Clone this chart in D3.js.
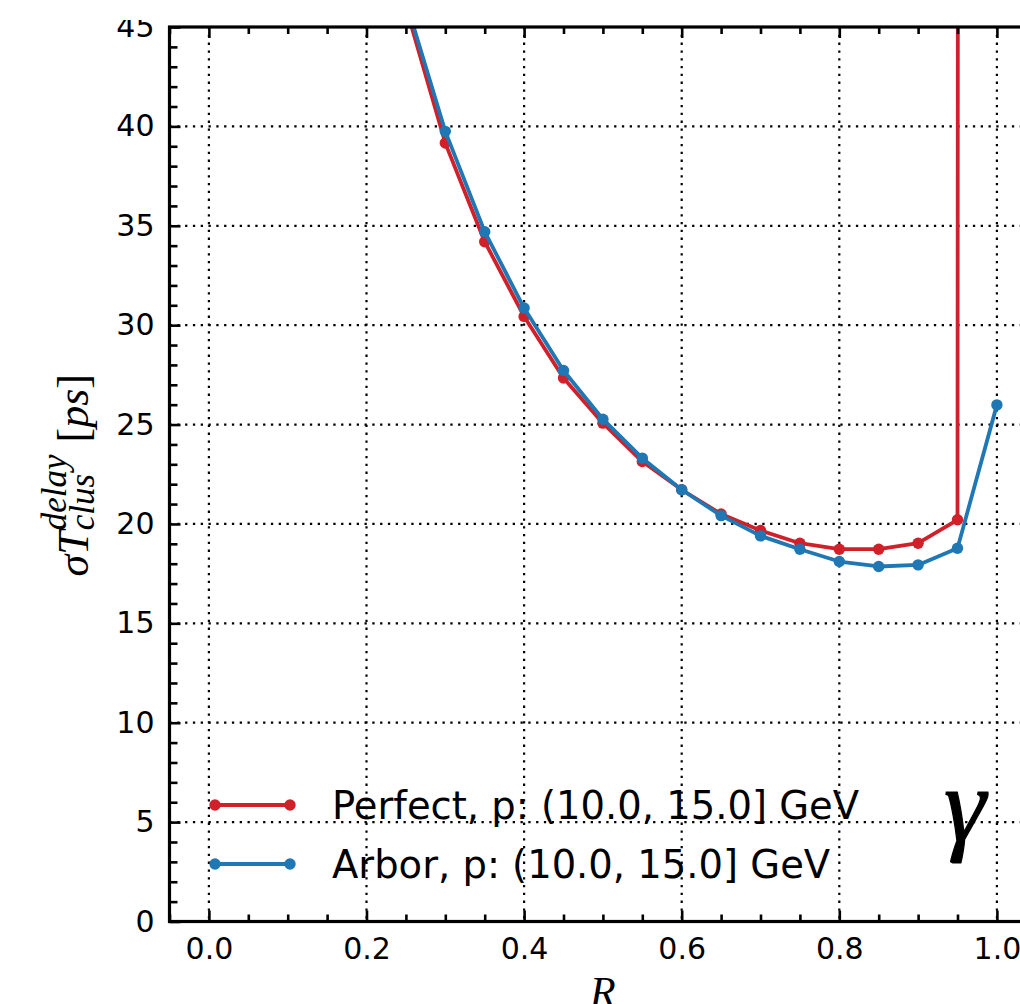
<!DOCTYPE html>
<html>
<head>
<meta charset="utf-8">
<script src="https://cdn.jsdelivr.net/npm/d3@7"></script>
<style>
  html, body { margin: 0; padding: 0; background: #fff; }
  svg { display: block; }
  .tick text { font-family: "DejaVu Sans", sans-serif; font-size: 30px; fill: #000; }
</style>
</head>
<body>
<svg id="chart" width="1020" height="1004"></svg>
<script>
// ---- data ----
const rValues = [0.25, 0.30, 0.35, 0.40, 0.45, 0.50, 0.55, 0.60, 0.65, 0.70, 0.75, 0.80, 0.85, 0.90, 0.95, 1.00];
const perfectValues = [46.0, 39.16, 34.2, 30.44, 27.34, 25.07, 23.14, 21.72, 20.5, 19.67, 19.03, 18.73, 18.73, 19.03, 20.21, 3000];
const arborValues   = [46.3, 39.75, 34.7, 30.86, 27.72, 25.27, 23.31, 21.72, 20.42, 19.40, 18.73, 18.11, 17.86, 17.94, 18.78, 25.99];
const seriesNames = ["Perfect, p: (10.0, 15.0] GeV", "Arbor, p: (10.0, 15.0] GeV"];
const seriesColors = ["#d0202a", "#1f77b4"];
const xMajorTicks = [0.0, 0.2, 0.4, 0.6, 0.8, 1.0];
const xMinorTicks = [-0.05, 0.05, 0.10, 0.15, 0.25, 0.30, 0.35, 0.45, 0.50, 0.55, 0.65, 0.70, 0.75, 0.85, 0.90, 0.95, 1.05];
const yMajorTicks = [0, 5, 10, 15, 20, 25, 30, 35, 40, 45];
const yMinorTicks = d3.range(0, 46).filter(v => v % 5 !== 0);

// ---- layout ----
const svg = d3.select("#chart");
const pL = 169.5, pR = 1036.3, pT = 27, pB = 921.5;
const x = d3.scaleLinear().domain([-0.05, 1.05]).range([pL, pR]);
const y = d3.scaleLinear().domain([0, 45]).range([pB, pT]);

svg.append("defs").append("clipPath").attr("id", "plotclip")
  .append("rect").attr("x", pL).attr("y", pT).attr("width", pR - pL).attr("height", pB - pT);

// grid
const grid = svg.append("g").attr("stroke", "#000").attr("stroke-width", 2.2).attr("stroke-dasharray", "2.3,5.5");
grid.selectAll("line.gx").data(xMajorTicks).enter().append("line")
  .attr("x1", d => x(d)).attr("x2", d => x(d)).attr("y1", pT).attr("y2", pB);
grid.selectAll("line.gy").data(yMajorTicks).enter().append("line")
  .attr("x1", pL).attr("x2", pR).attr("y1", d => y(d)).attr("y2", d => y(d));

// data
const plot = svg.append("g").attr("clip-path", "url(#plotclip)");
const line = d3.line().x(d => x(d[0])).y(d => y(d[1]));
[perfectValues, arborValues].forEach((vals, i) => {
  const pts = rValues.map((r, j) => [r, vals[j]]);
  plot.append("path").datum(pts).attr("d", line)
    .attr("fill", "none").attr("stroke", seriesColors[i]).attr("stroke-width", 3.8)
    .attr("stroke-linejoin", "round");
  plot.selectAll(null).data(pts).enter().append("circle")
    .attr("cx", d => x(d[0])).attr("cy", d => y(d[1])).attr("r", 5.7)
    .attr("fill", seriesColors[i]);
});

// axes (ticks inward)
function styleAxis(g) {
  g.select(".domain").remove();
  g.selectAll(".tick line").attr("stroke", "#000").attr("stroke-width", 2.6);
}
svg.append("g").attr("transform", `translate(0,${pB})`)
  .call(d3.axisBottom(x).tickValues(xMajorTicks).tickSize(-11).tickPadding(16).tickFormat(d3.format(".1f"))).call(styleAxis);
svg.append("g").attr("transform", `translate(0,${pB})`)
  .call(d3.axisBottom(x).tickValues(xMinorTicks).tickSize(-7).tickFormat("")).call(styleAxis);
svg.append("g").attr("transform", `translate(0,${pT})`)
  .call(d3.axisTop(x).tickValues(xMajorTicks).tickSize(-11).tickFormat("")).call(styleAxis);
svg.append("g").attr("transform", `translate(0,${pT})`)
  .call(d3.axisTop(x).tickValues(xMinorTicks).tickSize(-7).tickFormat("")).call(styleAxis);
svg.append("g").attr("transform", `translate(${pL},0)`)
  .call(d3.axisLeft(y).tickValues(yMajorTicks).tickSize(-11).tickPadding(15).tickFormat(d3.format("d"))).call(styleAxis);
svg.append("g").attr("transform", `translate(${pL},0)`)
  .call(d3.axisLeft(y).tickValues(yMinorTicks).tickSize(-8).tickFormat("")).call(styleAxis);
svg.append("g").attr("transform", `translate(${pR},0)`)
  .call(d3.axisRight(y).tickValues(yMajorTicks).tickSize(-11).tickFormat("")).call(styleAxis);
svg.append("g").attr("transform", `translate(${pR},0)`)
  .call(d3.axisRight(y).tickValues(yMinorTicks).tickSize(-8).tickFormat("")).call(styleAxis);

// spines
svg.append("rect").attr("x", pL).attr("y", pT).attr("width", pR - pL).attr("height", pB - pT)
  .attr("fill", "none").attr("stroke", "#000").attr("stroke-width", 3.2);

// legend
const legend = svg.append("g");
seriesNames.forEach((name, i) => {
  const ly = 805 + i * 59;
  legend.append("line").attr("x1", 215).attr("x2", 290).attr("y1", ly).attr("y2", ly)
    .attr("stroke", seriesColors[i]).attr("stroke-width", 3.8);
  [215, 290].forEach(cx => legend.append("circle").attr("cx", cx).attr("cy", ly).attr("r", 5.7).attr("fill", seriesColors[i]));
  legend.append("text").attr("x", 332).attr("y", ly + 14)
    .attr("font-family", "DejaVu Sans").attr("font-size", 38.5).attr("fill", "#000").text(name);
});

// gamma label
svg.append("text").attr("x", 944).attr("y", 840)
  .attr("font-family", "Liberation Serif").attr("font-style", "italic").attr("font-size", 106)
  .attr("fill", "#000").attr("stroke", "#000").attr("stroke-width", 1.2).text("γ");

// x axis label
svg.append("text").attr("x", (pL + pR) / 2).attr("y", 1006).attr("text-anchor", "middle")
  .attr("font-family", "Liberation Serif").attr("font-style", "italic").attr("font-size", 42)
  .text("R");

// y axis label: σT^{delay}_{clus} [ps]
const mainSize = 44, scriptSize = 35;
const yl = svg.append("text").attr("font-family", "Liberation Serif").attr("font-style", "italic")
  .attr("font-size", mainSize).attr("fill", "#000");
const tBase = yl.append("tspan").attr("x", 0).attr("y", 0).text("σT");
const tSup = yl.append("tspan").attr("font-size", scriptSize).attr("dy", -22).text("delay");
const supLen = tSup.node().getComputedTextLength();
const tSub = yl.append("tspan").attr("font-size", scriptSize).attr("dx", -supLen).attr("dy", 28).text("clus");
const subLen = tSub.node().getComputedTextLength();
const gap = 12;
const tOpen = yl.append("tspan").attr("font-style", "normal").attr("dx", Math.max(0, supLen - subLen) + gap).attr("dy", -6).text("[");
const tPs = yl.append("tspan").text("ps");
const tClose = yl.append("tspan").attr("font-style", "normal").text("]");
const totalLen = tBase.node().getComputedTextLength() + supLen + gap +
  tOpen.node().getComputedTextLength() + tPs.node().getComputedTextLength() + tClose.node().getComputedTextLength();
tBase.attr("x", -totalLen / 2);
yl.attr("transform", `translate(88,${(pT + pB) / 2 + 1}) rotate(-90)`);

// blank strip at very top (reference is cropped there)
svg.append("rect").attr("x", 0).attr("y", 0).attr("width", 1020).attr("height", 20).attr("fill", "#fff");
</script>
</body>
</html>
